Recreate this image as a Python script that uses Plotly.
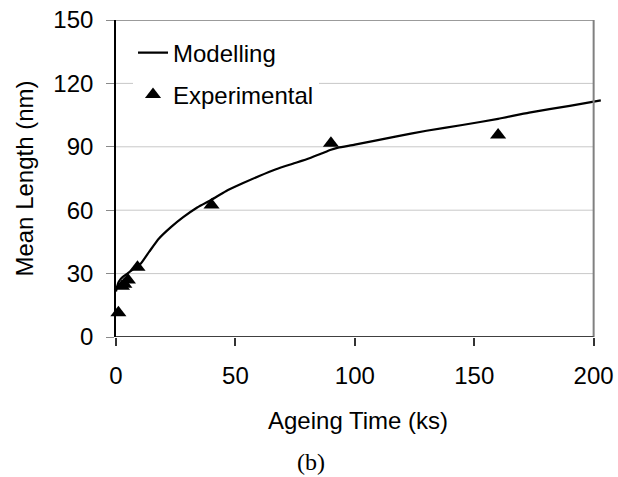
import plotly.graph_objects as go

# Modelled mean precipitate length vs ageing time
model_time = [0, 0.5, 1, 2, 3, 5, 7.5, 10.5, 14, 18, 23, 28, 34, 40, 46, 53, 60, 67,
              74, 81, 86, 90, 93, 100, 117, 130, 145, 160, 173, 190, 203]
model_length = [21.5, 24, 25.8, 27.5, 28.6, 30.2, 32.3, 34.9, 40.5, 46.6, 52, 56.6, 61.3,
                65, 69, 72.7, 76.2, 79.4, 82, 84.6, 86.8, 88.6, 89.6, 91, 94.8, 97.6,
                100.3, 103.2, 106.2, 109.4, 112]

# Measured mean lengths
exp_time = [1, 2.5, 3.5, 5, 9, 40, 90, 160]
exp_length = [11.5, 24, 25, 27, 33, 62.5, 91.7, 95.6]

x_ticks = [0, 50, 100, 150, 200]
y_ticks = [0, 30, 60, 90, 120, 150]
x_max, y_max = 200, 150

SANS = "Liberation Sans, Arial, sans-serif"
SERIF = "Liberation Serif, Times New Roman, serif"

# plot-area geometry in pixels
L_M, R_M, T_M, B_M = 116, 15.6, 20, 140
PW = 618 - L_M - R_M
PH = 477 - T_M - B_M

fig = go.Figure()
fig.add_trace(go.Scatter(
    x=model_time, y=model_length, mode="lines", name="Modelling",
    line=dict(color="black", width=2.2, shape="spline", smoothing=0.5),
    cliponaxis=False, legend="legend",
))
fig.add_trace(go.Scatter(
    x=exp_time, y=exp_length, mode="markers", name="Experimental",
    marker=dict(symbol="triangle-up", size=14, color="black"),
    cliponaxis=False, legend="legend2",
))

shapes = []
# horizontal gridlines
for v in y_ticks[1:-1]:
    shapes.append(dict(type="line", xref="x", yref="y", x0=0, x1=x_max, y0=v, y1=v,
                       line=dict(color="#c8c8c8", width=1), layer="below"))
# plot frame: top and right in grey, bottom axis dark
shapes.append(dict(type="line", xref="x", yref="y", x0=0, x1=x_max, y0=y_max, y1=y_max,
                   line=dict(color="#7a7a7a", width=1.5), layer="above"))
shapes.append(dict(type="line", xref="x", yref="y", x0=x_max, x1=x_max, y0=0, y1=y_max,
                   line=dict(color="#808080", width=2), layer="above"))
shapes.append(dict(type="line", xref="x", yref="y", x0=0, x1=x_max, y0=0, y1=0,
                   line=dict(color="#404040", width=2), layer="above"))

fig.update_layout(
    width=618, height=477,
    margin=dict(l=L_M, r=R_M, t=T_M, b=B_M, autoexpand=False),
    paper_bgcolor="white", plot_bgcolor="white",
    font=dict(family=SANS, size=24, color="black"),
    showlegend=True,
    legend=dict(x=0.035, y=(337 - 53) / PH, xanchor="left", yanchor="middle",
                bgcolor="white", borderwidth=0, itemwidth=30,
                font=dict(family=SANS, size=24)),
    legend2=dict(x=0.035, y=(337 - 95) / PH, xanchor="left", yanchor="middle",
                 bgcolor="white", borderwidth=0, itemwidth=30,
                 font=dict(family=SANS, size=24)),
    xaxis=dict(range=[0, 203.5], tickvals=x_ticks, ticks="outside", ticklen=8,
               tickwidth=1.5, tickcolor="#333333", showgrid=False, zeroline=False,
               showline=False, ticklabelstandoff=9,
               tickfont=dict(family=SANS, size=24)),
    yaxis=dict(range=[0, y_max], tickvals=y_ticks, ticks="outside", ticklen=8,
               tickwidth=1.2, tickcolor="#8a8a8a", showgrid=False, zeroline=False,
               showline=True, linecolor="black", linewidth=1.6, ticklabelstandoff=8,
               tickfont=dict(family=SANS, size=24)),
    shapes=shapes,
    annotations=[
        dict(text="Ageing Time (ks)", xref="paper", yref="paper",
             x=(358 - L_M) / PW, y=(337 - 420) / PH, xanchor="center", yanchor="middle",
             showarrow=False, font=dict(family=SANS, size=24)),
        dict(text="Mean Length (nm)", xref="paper", yref="paper", textangle=-90,
             x=(24 - L_M) / PW, y=0.5, xanchor="center", yanchor="middle",
             showarrow=False, font=dict(family=SANS, size=24)),
        dict(text="(b)", xref="paper", yref="paper",
             x=(311 - L_M) / PW, y=(337 - 462) / PH, xanchor="center", yanchor="middle",
             showarrow=False, font=dict(family=SERIF, size=24)),
    ],
)

fig.write_html("out.html")
